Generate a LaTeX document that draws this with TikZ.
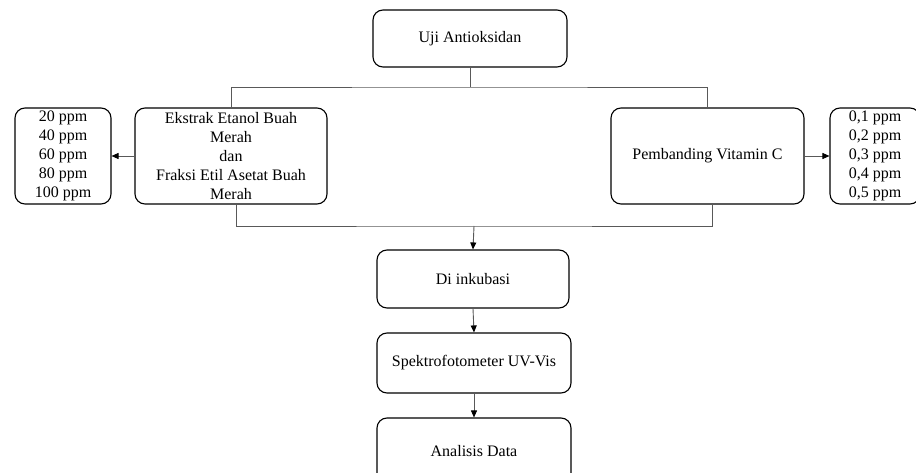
\documentclass[tikz,border=0pt]{standalone}
\usepackage{fontspec}
\setmainfont{Liberation Serif}
\usetikzlibrary{positioning,arrows.meta}

\begin{document}
\begin{tikzpicture}[x=1pt,y=-1pt,
					mybox/.style={
						draw=black, line width=1.1pt, rounded corners=10pt,
						align=center, inner sep=0pt,
						font=\fontsize{16}{19}\selectfont
					},
					conn/.style={draw=black!65, line width=0.9pt},
					arr/.style={conn, -{Triangle[length=7pt,width=6pt,color=black]}}
					]
					\useasboundingbox (0,0) rectangle (916,473);
					
					% --- kotak utama ---
					\node[mybox, minimum width=194pt, minimum height=57pt] (uji) at (470,38.5) {Uji Antioksidan};
					\node[mybox, minimum width=192pt, minimum height=96pt] (ekstrak) at (231,156)
						{Ekstrak Etanol Buah\\Merah\\dan\\Fraksi Etil Asetat Buah\\Merah};
					\node[mybox, minimum width=96pt, minimum height=96pt] (ppmkiri) at (63,156)
						{20 ppm\\40 ppm\\60 ppm\\80 ppm\\100 ppm};
					\node[mybox, minimum width=193pt, minimum height=96pt] (vitc) at (707.5,156) {Pembanding Vitamin C};
					\node[mybox, minimum width=90pt, minimum height=96pt] (ppmkanan) at (875,156)
						{0,1 ppm\\0,2 ppm\\0,3 ppm\\0,4 ppm\\0,5 ppm};
					
					% --- alur bawah ---
					\node[mybox, minimum width=192pt, minimum height=58pt] (inkubasi) at (473,279) {Di inkubasi};
					\node[mybox, minimum width=194pt, minimum height=60pt] (spektro) at (474,363) {Spektrofotometer UV-Vis};
					\node[mybox, minimum width=194pt, minimum height=66pt] (analisis) at (474,451) {Analisis Data};
					
					% --- garis percabangan ---
					\coordinate (cabang) at (470,87);
					\coordinate (gabung) at (474,226);
					\draw[conn] (uji.south) -- (cabang);
					\draw[conn] (ekstrak.north) |- (cabang) -| (vitc.north);
					\draw[conn] ([xshift=5pt]ekstrak.south) |- (gabung) -| ([xshift=5pt]vitc.south);
					
					% --- panah ---
					\draw[arr] (ekstrak.west) -- (ppmkiri.east);
					\draw[arr] (vitc.east) -- (ppmkanan.west);
					\draw[arr] (gabung) -- (inkubasi.north);
					\draw[arr] (inkubasi.south) -- (spektro.north);
					\draw[arr] (spektro.south) -- (analisis.north);
					
				\end{tikzpicture}
\end{document}
